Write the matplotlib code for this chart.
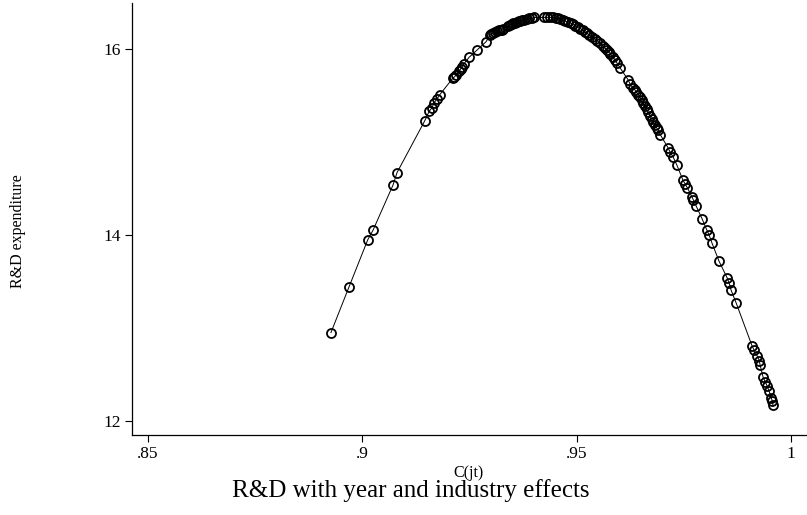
import numpy as np
import matplotlib
matplotlib.use('Agg')
import matplotlib.pyplot as plt

plt.rcParams['font.family'] = ['Liberation Serif', 'DejaVu Serif']

# C(jt) and R&D expenditure
cjt = [0.8927, 0.8969, 0.9013, 0.9025, 0.9072, 0.9081,
       0.9146, 0.9156, 0.9163, 0.9167, 0.9174, 0.9181,
       0.9212, 0.9215, 0.9219, 0.9226, 0.9230, 0.9233, 0.9237, 0.9249,
       0.9268, 0.9289,
       0.9298, 0.9301, 0.9305, 0.9310, 0.9314, 0.9318, 0.9321, 0.9325,
       0.9328,
       0.9341, 0.9345, 0.9349, 0.9352, 0.9357, 0.9361, 0.9365, 0.9368,
       0.9373, 0.9377, 0.9384, 0.9390, 0.9395, 0.9401,
       0.9424, 0.9431, 0.9438, 0.9445, 0.9451, 0.9457, 0.9462, 0.9468,
       0.9474, 0.9480, 0.9486, 0.9492, 0.9497, 0.9503, 0.9509, 0.9515,
       0.9520, 0.9524, 0.9530, 0.9536, 0.9542, 0.9548, 0.9555, 0.9562,
       0.9566, 0.9571, 0.9575, 0.9578, 0.9585, 0.9590, 0.9594,
       0.9601, 0.9620, 0.9625, 0.9632, 0.9636, 0.9639, 0.9644, 0.9648,
       0.9652, 0.9655, 0.9660, 0.9663, 0.9667,
       0.9671, 0.9675, 0.9678, 0.9683, 0.9687, 0.9690, 0.9695,
       0.9713, 0.9718, 0.9725,
       0.9734, 0.9748, 0.9753, 0.9758, 0.9769, 0.9772, 0.9779, 0.9793,
       0.9804, 0.9809, 0.9816, 0.9832, 0.9851, 0.9856, 0.9860, 0.9872,
       0.9909, 0.9914, 0.9921, 0.9926, 0.9928, 0.9935, 0.9940, 0.9944,
       0.9949, 0.9954, 0.9956, 0.9958]
rd = [12.95, 13.44, 13.95, 14.05, 14.54, 14.67,
      15.23, 15.33, 15.37, 15.42, 15.46, 15.51,
      15.69, 15.70, 15.72, 15.76, 15.79, 15.81, 15.84, 15.91,
      15.99, 16.08,
      16.15, 16.16, 16.17, 16.18, 16.19, 16.20, 16.20, 16.21,
      16.22,
      16.25, 16.26, 16.27, 16.28, 16.285, 16.29, 16.30, 16.30,
      16.31, 16.31, 16.32, 16.33, 16.33, 16.34,
      16.34, 16.34, 16.34, 16.34, 16.33, 16.33, 16.32, 16.31,
      16.30, 16.29, 16.28, 16.27, 16.25, 16.24, 16.22, 16.20,
      16.18, 16.17, 16.15, 16.13, 16.11, 16.09, 16.06, 16.03,
      16.01, 15.99, 15.97, 15.95, 15.91, 15.88, 15.85,
      15.80, 15.67, 15.62, 15.58, 15.56, 15.54, 15.51, 15.48,
      15.45, 15.42, 15.39, 15.35, 15.32,
      15.28, 15.25, 15.22, 15.18, 15.15, 15.13, 15.08,
      14.94, 14.89, 14.84,
      14.75, 14.59, 14.55, 14.51, 14.41, 14.38, 14.31, 14.17,
      14.05, 14.00, 13.91, 13.72, 13.54, 13.48, 13.41, 13.27,
      12.81, 12.76, 12.70, 12.65, 12.60, 12.47, 12.42, 12.38,
      12.32, 12.25, 12.22, 12.17]

xticks = [0.85, 0.9, 0.95, 1.0]
xticklabels = ['.85', '.9', '.95', '1']
yticks = [12, 14, 16]

fig = plt.figure(figsize=(8.07, 5.15), dpi=100)
ax = fig.add_axes([132 / 807, 80 / 515, 674 / 807, 432 / 515])

ax.plot(cjt, rd, color='black', lw=0.7, zorder=2)
ax.plot(cjt, rd, ls='none', marker='o', ms=6.5, mfc='none', mec='black',
        mew=1.3, zorder=3)

ax.set_xlim(0.8463, 1.0035)
ax.set_ylim(11.849, 16.495)
ax.set_xticks(xticks)
ax.set_xticklabels(xticklabels)
ax.set_yticks(yticks)
ax.tick_params(direction='out', length=5, width=0.8, labelsize=12.5, pad=3)

for s in ['top', 'right']:
    ax.spines[s].set_visible(False)
for s in ['left', 'bottom']:
    ax.spines[s].set_linewidth(0.9)

ax.set_xlabel('C(jt)', fontsize=11.5, labelpad=2)
fig.text(18 / 807, 1 - 231 / 515, 'R&D expenditure', rotation=90,
         ha='center', va='center', fontsize=11.5)
fig.text(411 / 807, 1 - 491 / 515, 'R&D with year and industry effects',
         ha='center', va='center', fontsize=18)

fig.savefig('out.png', dpi=100)
